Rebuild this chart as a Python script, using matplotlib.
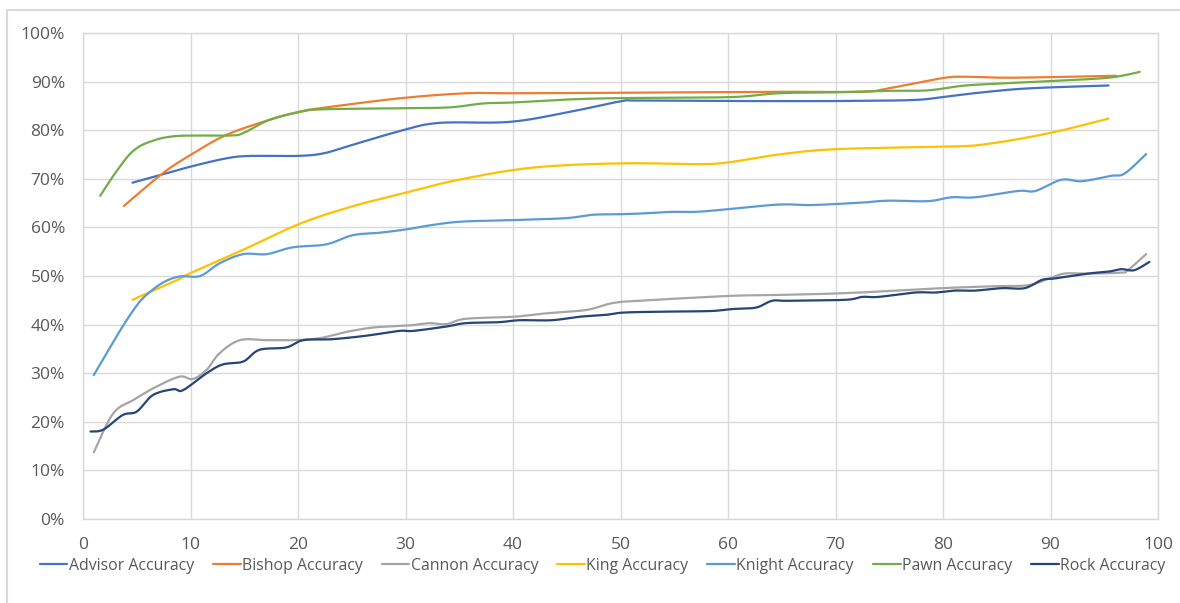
import numpy as np
import matplotlib.pyplot as plt
from matplotlib.patches import Rectangle

plt.rcParams['font.family'] = ['Open Sans', 'DejaVu Sans']

# accuracy (%), x = training progress
advisor_x = [4.6, 7.4, 10.0, 13.3, 15.5, 19.8, 22.3, 24.8, 29.6, 33.1, 39.6, 44.9, 49.9, 51.7, 60.0, 64.7, 70.0, 77.1, 79.9, 83.3, 87.9, 95.4]
advisor_y = [69.2, 70.9, 72.5, 74.2, 74.7, 74.7, 75.2, 76.8, 79.9, 81.5, 81.7, 83.6, 85.9, 86.1, 86.0, 86.0, 86.0, 86.2, 86.8, 87.7, 88.6, 89.2]

bishop_x = [3.8, 7.4, 10.0, 13.3, 17.3, 20.1, 22.3, 29.6, 35.6, 39.6, 49.9, 64.7, 72.4, 74.9, 79.9, 82.1, 86.4, 96.1]
bishop_y = [64.4, 71.1, 74.9, 79.0, 82.1, 83.8, 84.6, 86.6, 87.6, 87.6, 87.7, 87.9, 87.9, 88.6, 90.7, 91.0, 90.8, 91.2]

cannon_x = [1.0, 2.8, 4.7, 6.8, 9.0, 10.2, 11.5, 12.7, 14.6, 17.1, 19.5, 22.0, 24.5, 27.0, 29.4, 30.7, 32.2, 33.8, 35.6, 40.0,
            43.0, 46.8, 49.2, 51.7, 60.1, 64.7, 70.0, 74.9, 79.9, 84.8, 87.9, 89.9, 91.3, 93.5, 96.6, 97.2, 98.9]
cannon_y = [13.7, 21.7, 24.5, 27.2, 29.3, 28.8, 30.7, 34.1, 36.8, 36.8, 36.8, 37.2, 38.5, 39.4, 39.7, 39.9, 40.3, 40.1, 41.2, 41.6,
            42.3, 43.0, 44.4, 44.9, 45.9, 46.1, 46.4, 46.9, 47.5, 47.9, 48.1, 49.5, 50.5, 50.5, 50.7, 51.2, 54.5]

king_x = [4.6, 8.8, 10.0, 15.0, 20.1, 25.0, 29.4, 34.1, 40.0, 44.9, 51.1, 57.3, 60.1, 64.7, 70.0, 79.9, 83.9, 89.9, 95.4]
king_y = [45.1, 49.2, 50.6, 55.5, 60.7, 64.3, 66.8, 69.4, 71.8, 72.8, 73.2, 73.0, 73.4, 75.0, 76.1, 76.6, 77.1, 79.4, 82.4]

knight_x = [1.0, 3.1, 4.6, 5.7, 7.4, 9.0, 10.9, 12.7, 14.9, 17.1, 19.5, 22.6, 25.1, 27.6, 30.1, 32.5, 35.3, 40.0, 44.9, 47.4,
            49.9, 52.3, 54.8, 57.0, 59.8, 64.7, 67.8, 72.4, 74.9, 78.6, 80.8, 83.0, 87.0, 88.6, 91.0, 92.9, 95.6, 96.9, 98.9]
knight_y = [29.6, 37.5, 42.7, 45.7, 48.6, 49.9, 50.0, 52.6, 54.5, 54.5, 55.9, 56.5, 58.4, 58.9, 59.6, 60.5, 61.2, 61.5, 61.9, 62.6,
            62.7, 62.9, 63.2, 63.2, 63.7, 64.7, 64.6, 65.1, 65.5, 65.4, 66.2, 66.2, 67.5, 67.5, 69.8, 69.5, 70.6, 71.1, 75.1]

pawn_x = [1.6, 3.1, 4.6, 6.2, 8.7, 13.6, 14.9, 17.3, 20.1, 22.3, 29.6, 34.1, 37.2, 40.0, 44.9, 49.9, 60.1, 64.7, 70.0,
          74.9, 78.6, 82.1, 86.4, 89.9, 95.4, 98.3]
pawn_y = [66.5, 71.5, 75.6, 77.6, 78.8, 78.9, 79.4, 82.1, 83.7, 84.3, 84.5, 84.7, 85.5, 85.7, 86.3, 86.6, 86.8, 87.6, 87.8,
          88.1, 88.2, 89.2, 89.7, 90.1, 90.8, 92.0]

rock_x = [0.7, 1.9, 3.7, 5.0, 6.5, 8.4, 9.3, 11.5, 13.0, 14.9, 16.4, 18.9, 20.5, 23.2, 26.3, 29.4, 30.7, 33.8, 35.6, 38.7,
          40.6, 43.6, 46.1, 48.6, 50.5, 55.4, 58.5, 60.4, 62.6, 64.1, 65.6, 70.9, 72.5, 74.0, 77.4, 79.3, 81.1, 83.0, 85.5,
          87.6, 89.2, 90.4, 93.5, 95.4, 96.6, 97.8, 99.2]
rock_y = [18.0, 18.4, 21.4, 22.1, 25.5, 26.7, 26.5, 30.0, 31.8, 32.4, 34.8, 35.3, 36.8, 37.0, 37.7, 38.7, 38.7, 39.6, 40.3, 40.5,
          40.9, 40.9, 41.6, 42.0, 42.5, 42.7, 42.8, 43.2, 43.5, 44.9, 44.9, 45.1, 45.7, 45.7, 46.6, 46.6, 47.0, 47.0, 47.5,
          47.5, 49.2, 49.5, 50.5, 50.9, 51.4, 51.2, 52.9]

series = [
    ('Advisor Accuracy', advisor_x, advisor_y, '#4472C4'),
    ('Bishop Accuracy', bishop_x, bishop_y, '#ED7D31'),
    ('Cannon Accuracy', cannon_x, cannon_y, '#A5A5A5'),
    ('King Accuracy', king_x, king_y, '#FFC000'),
    ('Knight Accuracy', knight_x, knight_y, '#5B9BD5'),
    ('Pawn Accuracy', pawn_x, pawn_y, '#70AD47'),
    ('Rock Accuracy', rock_x, rock_y, '#264478'),
]


def smooth(xs, ys, n=20):
    # catmull-rom through the points, like a spreadsheet "smoothed line"
    p = np.column_stack([xs, ys]).astype(float)
    p = np.vstack([p[0], p, p[-1]])
    t = np.linspace(0, 1, n, endpoint=False)[:, None]
    out = []
    for i in range(1, len(p) - 2):
        p0, p1, p2, p3 = p[i - 1], p[i], p[i + 1], p[i + 2]
        seg = 0.5 * ((2 * p1) + (-p0 + p2) * t + (2 * p0 - 5 * p1 + 4 * p2 - p3) * t ** 2
                     + (-p0 + 3 * p1 - 3 * p2 + p3) * t ** 3)
        out.append(seg)
    out.append(p[-2][None, :])
    out = np.vstack(out)
    return out[:, 0], out[:, 1]


fig = plt.figure(figsize=(11.8, 6.03), dpi=100)
ax = fig.add_axes([83 / 1180, 1 - 519 / 603, (1158 - 83) / 1180, (519 - 33) / 603])

for name, xs, ys, col in series:
    sx, sy = smooth(xs, ys)
    ax.plot(sx, np.array(sy) / 100, color=col, lw=1.6, label=name, solid_capstyle='round')

ax.set_xlim(0, 100)
ax.set_ylim(0, 1)
ax.set_xticks(np.arange(0, 101, 10))
ax.set_yticks(np.arange(0, 1.01, 0.1))
ax.set_yticklabels([f'{int(round(v * 100))}%' for v in np.arange(0, 1.01, 0.1)])
ax.grid(True, color='#D9D9D9', lw=1)
ax.set_axisbelow(True)
for s in ax.spines.values():
    s.set_color('#D9D9D9')
    s.set_linewidth(1)
ax.tick_params(length=0, labelsize=12.5, colors='#595959')
ax.tick_params(axis='y', pad=13)
ax.tick_params(axis='x', pad=13)

fig.legend(loc='center', bbox_to_anchor=(0.5106, 1 - 566 / 603), ncol=7, frameon=False,
           fontsize=11.4, labelcolor='#595959', handlelength=1.75, handletextpad=0.08,
           columnspacing=1.2)

# chart area outline
fig.patches.append(Rectangle((7 / 1180, -0.2), 1.5, 1.2 - 10 / 603, transform=fig.transFigure,
                             fill=False, edgecolor='#D9D9D9', lw=1.5))

fig.savefig('out.png', dpi=100)
